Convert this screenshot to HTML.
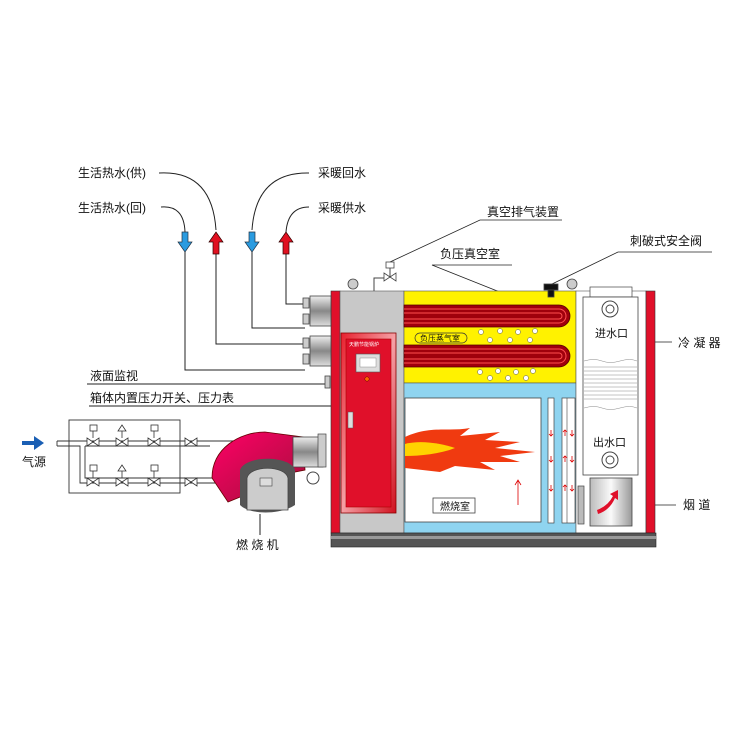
<!DOCTYPE html>
<html><head><meta charset="utf-8"><style>
html,body{margin:0;padding:0;background:#fff}
svg text{font-family:"Liberation Sans","Noto Sans CJK SC",sans-serif;font-size:12px;fill:#111}
</style></head><body>
<svg width="750" height="750" viewBox="0 0 750 750" xmlns="http://www.w3.org/2000/svg">
<defs>
<linearGradient id="cyl" x1="0" y1="0" x2="0" y2="1"><stop offset="0" stop-color="#eee"/><stop offset="0.5" stop-color="#888"/><stop offset="1" stop-color="#ddd"/></linearGradient>
<linearGradient id="door" x1="0" y1="0" x2="1" y2="1"><stop offset="0" stop-color="#e8202e"/><stop offset="0.5" stop-color="#f5a0a5"/><stop offset="1" stop-color="#d0101e"/></linearGradient>
<linearGradient id="flue" x1="0" y1="0" x2="1" y2="0"><stop offset="0" stop-color="#bbb"/><stop offset="0.5" stop-color="#fafafa"/><stop offset="1" stop-color="#999"/></linearGradient>
<linearGradient id="hood" x1="0" y1="0" x2="1" y2="1"><stop offset="0" stop-color="#f06"/><stop offset="1" stop-color="#a0103a"/></linearGradient>
</defs>

<text x="78" y="177">生活热水(供)</text>
<text x="78" y="212">生活热水(回)</text>
<text x="318" y="177">采暖回水</text>
<text x="318" y="212">采暖供水</text>
<g fill="none" stroke="#222" stroke-width="1">
<path d="M159 173 Q212 170 216 230"/>
<path d="M161 207 Q184 205 185 232"/>
<path d="M309 173 Q256 172 252 230"/>
<path d="M309 207 Q288 207 286 232"/>
<path d="M185 250 V370 H305"/>
<path d="M216 250 V344 H305"/>
<path d="M252 250 V328 H305"/>
<path d="M286 250 V304 H305"/>
<path d="M87 384 H328"/>
<path d="M89 406 H350"/>
</g>
<path d="M182 232h6v10h4l-7 10-7-10h4z" fill="#2a9be0" stroke="#234" stroke-width="0.7"/>
<path d="M249 232h6v10h4l-7 10-7-10h4z" fill="#2a9be0" stroke="#234" stroke-width="0.7"/>
<path d="M213 254h6v-12h4l-7-10-7 10h4z" fill="#e01020" stroke="#300" stroke-width="0.7"/>
<path d="M283 254h6v-12h4l-7-10-7 10h4z" fill="#e01020" stroke="#300" stroke-width="0.7"/>
<text x="90" y="380">液面监视</text>
<text x="90" y="402">箱体内置压力开关、压力表</text>

<text x="487" y="216">真空排气装置</text>
<text x="440" y="258">负压真空室</text>
<text x="630" y="245">刺破式安全阀</text>
<text x="678" y="347">冷 凝 器</text>
<text x="683" y="509">烟 道</text>
<g fill="none" stroke="#222" stroke-width="0.8">
<path d="M562 220 H480 L390 262"/>
<path d="M512 265 H432 L550 312"/>
<path d="M712 252 H618 L550 285"/>
<path d="M638 342 H672"/>
<path d="M632 505 H676"/>
</g>

<rect x="331" y="291" width="9" height="242" fill="#e0102a" stroke="#333" stroke-width="0.6"/>
<rect x="340" y="291" width="64" height="242" fill="#c8c8c8" stroke="#555" stroke-width="0.6"/>
<rect x="404" y="291" width="172" height="92" fill="#fff200" stroke="#555" stroke-width="0.6"/>
<rect x="404" y="383" width="172" height="150" fill="#8fd4f0" stroke="#555" stroke-width="0.6"/>
<rect x="405" y="398" width="136" height="124" fill="#fff" stroke="#444" stroke-width="0.8"/>
<rect x="548" y="398" width="6" height="125" fill="#fff" stroke="#444" stroke-width="0.7"/>
<rect x="562" y="398" width="13" height="125" fill="#fff" stroke="#444" stroke-width="0.7"/>
<line x1="567" y1="398" x2="567" y2="523" stroke="#444" stroke-width="0.6"/>
<rect x="576" y="291" width="70" height="242" fill="#fff" stroke="#555" stroke-width="0.6"/>
<rect x="646" y="291" width="9" height="242" fill="#e0102a" stroke="#333" stroke-width="0.6"/>
<rect x="331" y="533" width="325" height="14" fill="#555" stroke="#222" stroke-width="0.6"/>
<rect x="331" y="536" width="325" height="3" fill="#999"/>
<g>
<path d="M404 305 H559 A11 11 0 0 1 559 327 H404 Z" fill="#a0000c" stroke="#500" stroke-width="0.8"/>
<path d="M404 309 H559 A7 7 0 0 1 559 323 H404" fill="none" stroke="#ff5050" stroke-width="1"/>
<path d="M404 313 H559 A3 3 0 0 1 559 319 H404" fill="none" stroke="#ff5050" stroke-width="1"/>
<path d="M404 345 H559 A11 11 0 0 1 559 367 H404 Z" fill="#a0000c" stroke="#500" stroke-width="0.8"/>
<path d="M404 349 H559 A7 7 0 0 1 559 363 H404" fill="none" stroke="#ff5050" stroke-width="1"/>
<path d="M404 353 H559 A3 3 0 0 1 559 359 H404" fill="none" stroke="#ff5050" stroke-width="1"/>
</g>
<rect x="415" y="333" width="52" height="10" rx="5" fill="#fff200" stroke="#333" stroke-width="0.7"/>
<text x="420" y="341" style="font-size:8px">负压蒸气室</text>
<g fill="#fff" stroke="#555" stroke-width="0.5">
<circle cx="481" cy="332" r="2.5"/><circle cx="500" cy="331" r="2.5"/><circle cx="518" cy="332" r="2.5"/><circle cx="535" cy="331" r="2.5"/>
<circle cx="490" cy="340" r="2.5"/><circle cx="510" cy="340" r="2.5"/><circle cx="530" cy="340" r="2.5"/>
<circle cx="480" cy="372" r="2.5"/><circle cx="498" cy="371" r="2.5"/><circle cx="516" cy="372" r="2.5"/><circle cx="533" cy="371" r="2.5"/>
<circle cx="490" cy="378" r="2.5"/><circle cx="508" cy="378" r="2.5"/><circle cx="526" cy="378" r="2.5"/>
</g>
<path d="M405 437 C430 425 450 432 470 428 L460 436 L500 432 L485 440 L520 442 L495 448 L535 452 L500 456 L520 462 L480 462 L495 470 L455 466 L440 472 L405 468 Z" fill="#f03a10"/>
<path d="M405 444 C420 440 440 443 455 448 C440 454 420 456 405 456 Z" fill="#ffd200"/>
<rect x="433" y="498" width="42" height="15" fill="#fff" stroke="#444" stroke-width="0.8"/>
<text x="440" y="510" style="font-size:10px">燃烧室</text>
<path d="M518 505 V481 M515 485 L518 480 L521 485" stroke="#d00" fill="none" stroke-width="0.8"/>
<g stroke="#d00" stroke-width="0.8" fill="none">
<path d="M551 430v6m-2-2l2 2 2-2M551 456v6m-2-2l2 2 2-2M551 485v6m-2-2l2 2 2-2"/>
<path d="M565 436v-6m-2 2l2-2 2 2M565 462v-6m-2 2l2-2 2 2M565 491v-6m-2 2l2-2 2 2"/>
<path d="M572 430v6m-2-2l2 2 2-2M572 456v6m-2-2l2 2 2-2M572 485v6m-2-2l2 2 2-2"/>
</g>
<rect x="341" y="333" width="55" height="180" fill="url(#door)" stroke="#800" stroke-width="0.8"/>
<rect x="346" y="339" width="45" height="168" fill="#e0102a" stroke="#a00" stroke-width="0.6"/>
<rect x="356" y="354" width="24" height="18" fill="#ddd" stroke="#555" stroke-width="0.6"/>
<rect x="360" y="358" width="16" height="9" fill="#fff" stroke="#777" stroke-width="0.4"/>
<circle cx="367" cy="379" r="2.2" fill="#f60" stroke="#600" stroke-width="0.5"/>
<rect x="348" y="412" width="5" height="16" fill="#ddd" stroke="#555" stroke-width="0.5"/>
<text x="349" y="346" style="font-size:5px;fill:#fff">天鹏节能锅炉</text>
<g fill="#ccc" stroke="#444" stroke-width="0.8">
<circle cx="353" cy="284" r="5"/><circle cx="572" cy="284" r="5"/>
<rect x="544" y="284" width="14" height="6" fill="#111"/><rect x="548" y="290" width="6" height="7" fill="#111"/>
</g>
<path d="M374 291 V278 H384" fill="none" stroke="#444" stroke-width="1"/>
<path d="M384 273 L396 281 V273 L384 281 Z" fill="#fff" stroke="#444" stroke-width="0.8"/>
<rect x="386" y="262" width="8" height="6" fill="#fff" stroke="#444" stroke-width="0.8"/>
<line x1="390" y1="268" x2="390" y2="277" stroke="#444"/>
<g stroke="#444" stroke-width="0.8">
<rect x="310" y="296" width="21" height="30" fill="url(#cyl)"/>
<rect x="310" y="336" width="21" height="30" fill="url(#cyl)"/>
<rect x="303" y="298" width="6" height="10" fill="#ccc"/><rect x="303" y="314" width="6" height="10" fill="#ccc"/>
<rect x="303" y="338" width="6" height="10" fill="#ccc"/><rect x="303" y="354" width="6" height="10" fill="#ccc"/>
<rect x="325" y="376" width="5" height="12" fill="#ccc"/>
</g>
<rect x="590" y="287" width="42" height="10" fill="#fff" stroke="#444" stroke-width="0.7"/>
<rect x="583" y="297" width="55" height="178" fill="#fff" stroke="#444" stroke-width="0.8"/>
<g stroke="#888" stroke-width="0.5">
<path d="M584 361 q10 -3 18 0 t18 0 t17 0" fill="none"/>
<path d="M584 408 q10 -3 18 0 t18 0 t17 0" fill="none"/>
<line x1="584" y1="367" x2="637" y2="367"/><line x1="584" y1="371" x2="637" y2="371"/><line x1="584" y1="375" x2="637" y2="375"/><line x1="584" y1="379" x2="637" y2="379"/><line x1="584" y1="383" x2="637" y2="383"/><line x1="584" y1="387" x2="637" y2="387"/><line x1="584" y1="391" x2="637" y2="391"/><line x1="584" y1="395" x2="637" y2="395"/><line x1="584" y1="399" x2="637" y2="399"/>
</g>
<circle cx="610" cy="309" r="8" fill="#fff" stroke="#444"/><circle cx="610" cy="309" r="4" fill="#fff" stroke="#444"/>
<circle cx="610" cy="460" r="8" fill="#fff" stroke="#444"/><circle cx="610" cy="460" r="4" fill="#fff" stroke="#444"/>
<text x="595" y="337" style="font-size:11px">进水口</text>
<text x="593" y="446" style="font-size:11px">出水口</text>
<rect x="590" y="478" width="42" height="48" fill="url(#flue)" stroke="#444" stroke-width="0.8"/>
<rect x="578" y="486" width="6" height="38" fill="#bbb" stroke="#444" stroke-width="0.7"/>
<path d="M597 510 Q608 506 613 496 L610 494 L618 490 L618 500 L615 498 Q610 510 598 514 Z" fill="#e0102a"/>

<path d="M22 441 h12 v-5 l10 7 -10 7 v-5 h-12z" fill="#1a5fb4"/>
<text x="22" y="466">气源</text>
<g fill="none" stroke="#333" stroke-width="0.9">
<rect x="69" y="420" width="111" height="73"/>
<path d="M57 441 H235 M57 446 H80 V483 H235 M85 446 V478 H235 M85 446 H210"/>
<path d="M57 441 V446"/>
</g>
<g fill="#fff" stroke="#333" stroke-width="0.8">
<path d="M87 438 L99 446 V438 L87 446 Z"/><path d="M116 438 L128 446 V438 L116 446 Z"/><path d="M148 438 L160 446 V438 L148 446 Z"/><path d="M185 438 L197 446 V438 L185 446 Z"/>
<path d="M87 478 L99 486 V478 L87 486 Z"/><path d="M116 478 L128 486 V478 L116 486 Z"/><path d="M148 478 L160 486 V478 L148 486 Z"/><path d="M185 478 L197 486 V478 L185 486 Z"/>
<rect x="90" y="425" width="7" height="6"/><rect x="151" y="425" width="7" height="6"/>
<rect x="90" y="465" width="7" height="6"/><rect x="151" y="465" width="7" height="6"/>
<path d="M122 425 L126 431 H118 Z"/><path d="M122 465 L126 471 H118 Z"/>
<path d="M93 431V438M154 431V438M122 431V438M93 471V478M154 471V478M122 471V478"/>
</g>
<path d="M212 478 C212 448 240 432 265 432 L303 437 L305 470 L265 478 L245 495 L228 502 Z" fill="url(#hood)" stroke="#600" stroke-width="0.8"/>
<rect x="293" y="437" width="30" height="30" fill="url(#cyl)" stroke="#444" stroke-width="0.8"/>
<rect x="318" y="434" width="8" height="33" fill="#ccc" stroke="#444" stroke-width="0.7"/>
<circle cx="313" cy="478" r="6" fill="#fff" stroke="#444"/>
<path d="M240 470 C245 455 290 455 295 470 L295 505 C280 515 250 515 240 505 Z" fill="#555"/>
<path d="M247 478 C250 465 285 465 288 478 L288 510 L247 510 Z" fill="#ccc" stroke="#444" stroke-width="0.8"/>
<rect x="260" y="478" width="12" height="8" fill="#ddd" stroke="#444" stroke-width="0.6"/>
<line x1="260" y1="514" x2="260" y2="535" stroke="#222"/>
<text x="236" y="549">燃 烧 机</text>
</svg>
</body></html>
